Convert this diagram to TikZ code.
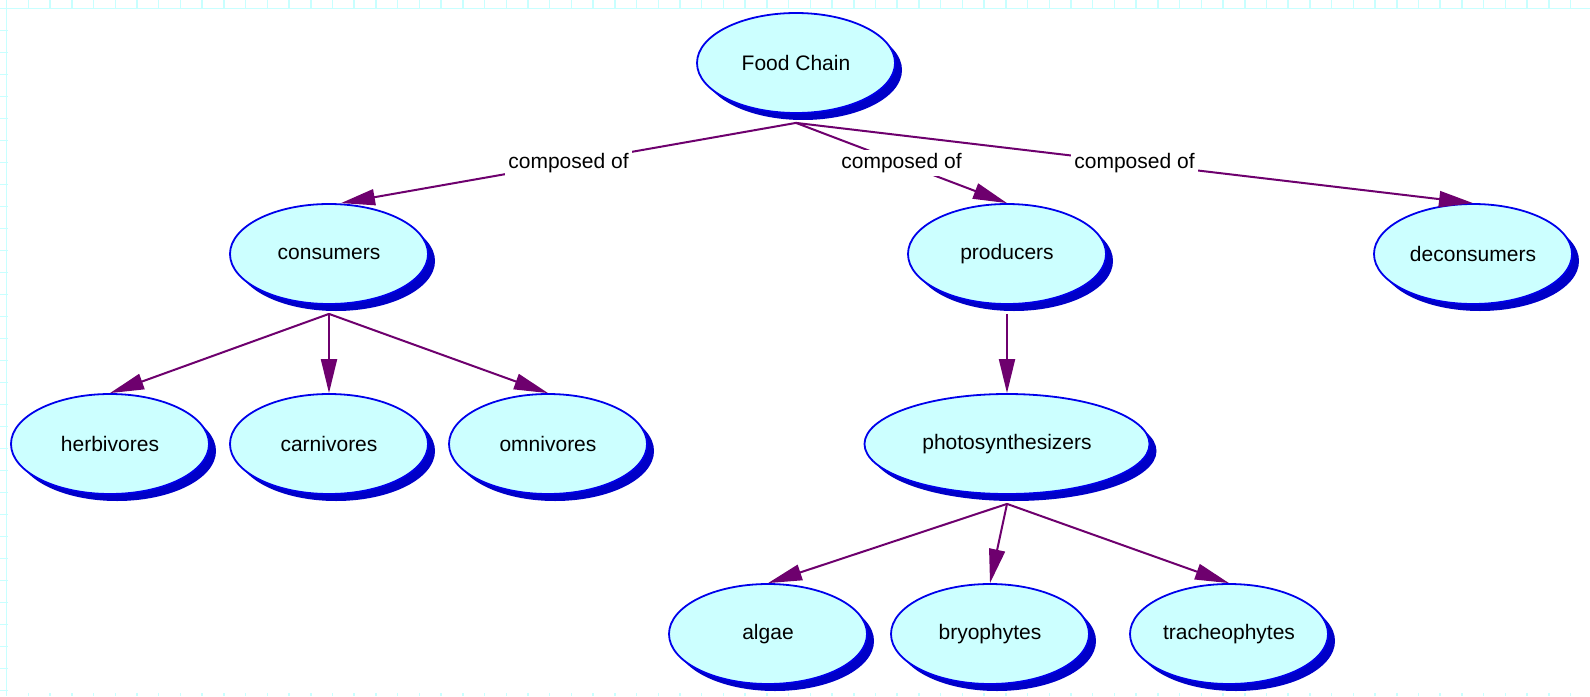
\documentclass[tikz,border=0pt]{standalone}
\usepackage{fontspec}
\setmainfont{Liberation Sans}
\usetikzlibrary{shapes.geometric}
\usetikzlibrary{shadows}
\usetikzlibrary{arrows.meta}

\definecolor{bubble}{RGB}{204,255,255}
\definecolor{rim}{RGB}{0,0,235}
\definecolor{rimshadow}{RGB}{0,0,200}
\definecolor{plum}{RGB}{110,0,110}
\definecolor{gridcyan}{RGB}{200,255,255}

\tikzset{
  concept/.style={ellipse, draw=rim, line width=1.8pt, fill=bubble,
    minimum width=198pt, minimum height=100pt, inner sep=0pt,
    font=\fontsize{21}{25}\selectfont,
    drop shadow={fill=rimshadow, opacity=1, shadow xshift=7pt, shadow yshift=-7pt}},
  link/.style={draw=plum, line width=2pt, -{Triangle[length=34pt,width=16pt]}},
  linklabel/.style={fill=white, inner sep=3pt, font=\fontsize{21}{25}\selectfont},
}

\begin{document}
\begin{tikzpicture}[x=1pt, y=-1pt]
    \useasboundingbox (0, 0) rectangle (1590, 696);
    % page grid, only its edges show
    \foreach \i in {0,...,73}
        \draw [gridcyan, line width=1.5pt] ({6.7+21.72*\i}, 0) -- ({6.7+21.72*\i}, 696);
    \foreach \j in {0,...,31}
        \draw [gridcyan, line width=1.5pt] (0, {8.5+22*\j}) -- (1590, {8.5+22*\j});
    \fill [white] (7.5, 9.3) rectangle (1590, 693);

    \path (796, 63) node [concept] (fc) {Food Chain};
    \path (329, 254) node [concept] (cons) {consumers};
    \path (1007, 254) node [concept] (prod) {producers};
    \path (1473, 254) node [concept] (decons) {deconsumers};
    \path (110, 444) node [concept] (herb) {herbivores};
    \path (329, 444) node [concept] (carn) {carnivores};
    \path (548, 444) node [concept] (omni) {omnivores};
    \path (1007, 444) node [concept, minimum width=285pt] (photo) {photosynthesizers};
    \path (768, 634) node [concept] (algae) {algae};
    \path (990, 634) node [concept] (bryo) {bryophytes};
    \path (1229, 634) node [concept] (trach) {tracheophytes};

    \draw [link] ([yshift=-9pt]fc.south) -- ([xshift=12pt]cons.north)
	node[midway,linklabel] {composed of};
    \draw [link] ([yshift=-9pt]fc.south) -- (prod.north)
	node[midway,linklabel] {composed of};
    \draw [link] ([yshift=-9pt]fc.south) -- (decons.north)
	node[midway,linklabel] {composed of};

    \draw [link] ([yshift=-9pt]cons.south) -- (herb.north);
    \draw [link] ([yshift=-9pt]cons.south) -- (carn.north);
    \draw [link] ([yshift=-9pt]cons.south) -- (omni.north);
    \draw [link] ([yshift=-9pt]prod.south) -- (photo.north);
    \draw [link] ([yshift=-9pt]photo.south) -- (algae.north);
    \draw [link] ([yshift=-9pt]photo.south) -- (bryo.north);
    \draw [link] ([yshift=-9pt]photo.south) -- (trach.north);
\end{tikzpicture}
\end{document}
